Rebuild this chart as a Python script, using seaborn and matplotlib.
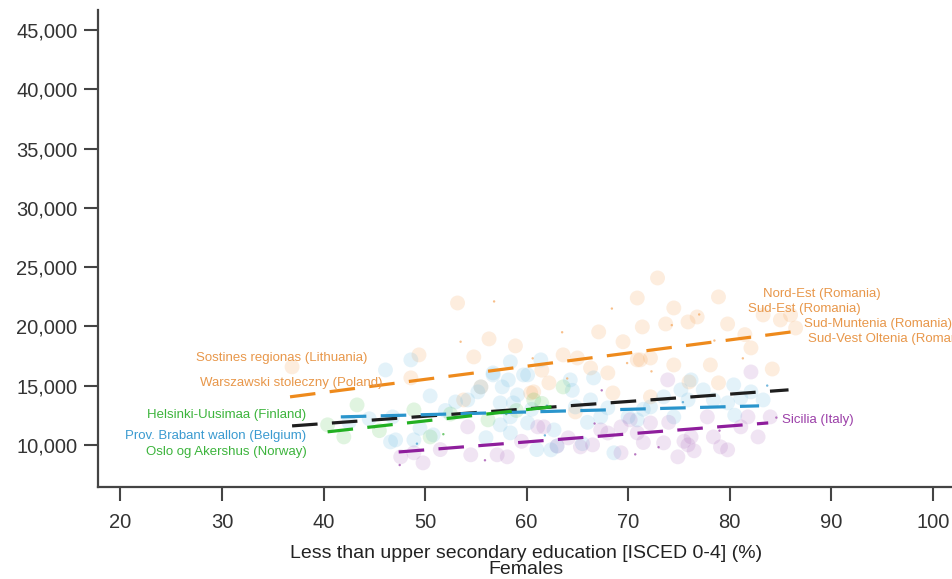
import matplotlib
matplotlib.use("Agg")
import matplotlib.pyplot as plt
import seaborn as sns
import pandas as pd

sns.set_style("white")
plt.rcParams['font.family'] = ['Liberation Sans', 'DejaVu Sans']

# regional points: share with less than upper secondary education (%) vs value
orange_x = [53.2, 70.9, 72.9, 78.9, 74.5, 71.4, 73.7, 75.9, 76.8, 79.8, 67.1, 56.3, 58.9,
            49.4, 54.8, 36.9, 83.3, 85.0, 86.0, 86.5, 63.6, 65.0, 66.3, 68.0, 70.9, 60.4,
            62.2, 68.5, 64.8, 55.5, 71.2, 72.2, 74.5, 78.1, 82.1, 76.0, 78.9, 72.2, 53.8,
            48.6, 60.7, 81.5, 84.2, 69.5, 61.5]
orange_y = [21970, 22390, 24080, 22480, 21550, 19950, 20200, 20370, 20790, 20200, 19530, 18940, 18350,
            17590, 17420, 16580, 20960, 20540, 20960, 19860, 17590, 17330, 16490, 16070, 17170, 14380,
            15230, 14380, 12780, 14890, 17170, 17330, 16740, 16740, 18180, 15310, 15230, 14050, 13790,
            15650, 14470, 19300, 16400, 18700, 16300]

blue_x = [48.6, 46.1, 50.5, 55.5, 56.7, 58.2, 59.7, 61.4, 46.6, 47.1, 48.9, 50.8, 54.2, 57.4,
          58.4, 60.1, 53.0, 46.8, 55.2, 58.4, 56.7, 60.1, 57.6, 59.1, 58.7, 64.3, 66.6, 66.3,
          68.0, 64.8, 67.3, 57.4, 58.4, 62.7, 62.4, 68.6, 70.0, 75.2, 77.4, 80.4, 82.1, 83.3,
          81.1, 78.4, 75.9, 73.5, 70.9, 72.2, 74.5, 79.8, 76.2, 63.0, 65.5, 61.0, 52.0, 44.5,
          42.5, 49.5, 66.0, 71.5, 80.5, 56.0, 60.5, 64.5]
blue_y = [17170, 16320, 14130, 14890, 15900, 15480, 15900, 17170, 10250, 10420, 10420, 10840, 13790, 13540,
          12360, 11850, 13620, 12360, 14470, 17000, 16070, 15900, 14890, 14220, 13540, 15480, 15650, 13790,
          13120, 13200, 12360, 11690, 11010, 11260, 9580, 9330, 12360, 14640, 14640, 15060, 14470, 13790,
          13960, 13790, 13790, 14050, 12110, 13200, 12360, 13540, 15480, 9900, 10100, 9600, 12900, 12200,
          11900, 11400, 11900, 13000, 12500, 10600, 13000, 14600]

green_x = [43.3, 42.0, 40.4, 48.9, 50.5, 63.6, 60.7, 56.2, 45.5, 52.5, 59.0, 61.5]
green_y = [13370, 10670, 11690, 12950, 10670, 14890, 13790, 12110, 11200, 12600, 12900, 13500]

purple_x = [47.6, 49.8, 48.9, 54.5, 58.1, 54.2, 61.1, 51.5, 61.7, 57.1, 64.1, 65.3, 67.3, 69.3,
            70.2, 69.3, 82.1, 73.9, 70.9, 72.2, 73.5, 74.9, 75.9, 76.2, 78.4, 79.1, 79.8, 81.1,
            82.8, 81.8, 84.0, 77.8, 76.5, 75.5, 66.5, 63.0, 59.5, 71.5, 74.0, 68.0]
purple_y = [8990, 8480, 9330, 9160, 8990, 11520, 11520, 9600, 11520, 9160, 10590, 9830, 11260, 11520,
            12110, 9330, 16150, 15480, 11010, 11850, 10170, 8990, 10000, 10670, 10670, 9830, 9580, 11520,
            10670, 12360, 12360, 12360, 9500, 10300, 10000, 9900, 10300, 10200, 11900, 11000]

# small dots of the remaining series
dot_x = [56.8, 53.5, 60.6, 68.4, 74.3, 77.0, 81.3, 84.6, 62.0, 66.7, 70.7, 47.5, 51.8, 58.0,
         64.0, 72.3, 78.5, 83.7, 45.0, 49.2, 55.9, 61.8, 67.4, 73.0, 79.0, 75.4, 69.9, 63.5]
dot_y = [22100, 18700, 17300, 21500, 20100, 21000, 17300, 12300, 13300, 11800, 9200, 8300, 10900, 12600,
         15600, 16200, 18800, 15000, 11500, 10100, 8700, 10800, 14600, 9800, 11200, 13600, 16900, 19500]
dot_color = ["#F5A55A", "#F5A55A", "#F5A55A", "#F5A55A", "#F5A55A", "#F5A55A", "#F5A55A", "#9B3FA8",
             "#3A9AD0", "#9B3FA8", "#9B3FA8", "#9B3FA8", "#3CB43C", "#3CB43C", "#F5A55A", "#F5A55A",
             "#F5A55A", "#3A9AD0", "#3CB43C", "#3A9AD0", "#9B3FA8", "#3A9AD0", "#9B3FA8", "#9B3FA8",
             "#9B3FA8", "#3A9AD0", "#F5A55A", "#F5A55A"]

# fitted trend lines (start, end)
fit_orange_x, fit_orange_y = [36.7, 86.0], [14050, 19520]
fit_black_x, fit_black_y = [36.9, 85.8], [11600, 14640]
fit_blue_x, fit_blue_y = [41.7, 82.9], [12360, 13290]
fit_green_x, fit_green_y = [40.4, 63.3], [11100, 13290]
fit_purple_x, fit_purple_y = [47.4, 83.8], [9400, 11850]

x_ticks = [20, 30, 40, 50, 60, 70, 80, 90, 100]
y_ticks = [10000, 15000, 20000, 25000, 30000, 35000, 40000, 45000]

fig = plt.figure(figsize=(9.53, 5.79), dpi=100)
ax = fig.add_axes([0.103, 0.159, 0.897, 0.824])

groups = [(orange_x, orange_y, "#F5A55A", 0.2), (blue_x, blue_y, "#5DB5E0", 0.17),
          (green_x, green_y, "#4CC04C", 0.17), (purple_x, purple_y, "#A862B8", 0.17)]
for gx, gy, c, a in groups:
    df = pd.DataFrame({"x": gx, "y": gy})
    sns.scatterplot(data=df, x="x", y="y", color=c, alpha=a, s=115, edgecolor="none", ax=ax)

dots = pd.DataFrame({"x": dot_x, "y": dot_y, "c": dot_color})
ax.scatter(dots["x"], dots["y"], c=dots["c"], s=3, alpha=0.7, edgecolors="none")

fits = [(fit_orange_x, fit_orange_y, "#EE8A1C"), (fit_black_x, fit_black_y, "#1E1E1E"),
        (fit_blue_x, fit_blue_y, "#2A95CC"), (fit_green_x, fit_green_y, "#22B022"),
        (fit_purple_x, fit_purple_y, "#8E1E9C")]
for fx, fy, c in fits:
    sns.lineplot(x=fx, y=fy, color=c, lw=2.3, dashes=False, ax=ax)
    ax.lines[-1].set_dashes((8, 4.5))

labels = [("Sostines regionas (Lithuania)", 44.3, 17330, "right", "#E8974A"),
          ("Warszawski stoleczny (Poland)", 45.8, 15230, "right", "#E8974A"),
          ("Helsinki-Uusimaa (Finland)", 38.3, 12530, "right", "#3CB43C"),
          ("Prov. Brabant wallon (Belgium)", 38.3, 10760, "right", "#3A9AD0"),
          ("Oslo og Akershus (Norway)", 38.3, 9410, "right", "#3CB43C"),
          ("Nord-Est (Romania)", 83.3, 22730, "left", "#E8974A"),
          ("Sud-Est (Romania)", 81.8, 21460, "left", "#E8974A"),
          ("Sud-Muntenia (Romania)", 87.3, 20200, "left", "#E8974A"),
          ("Sud-Vest Oltenia (Romania)", 87.7, 18940, "left", "#E8974A"),
          ("Sicilia (Italy)", 85.2, 12110, "left", "#9B3FA8")]
for t, tx, ty, ha, c in labels:
    ax.text(tx, ty, t, ha=ha, va="center", color=c, fontsize=9.5, clip_on=False)

ax.set_xlim(17.8, 102)
ax.set_ylim(6450, 46700)
ax.set_xticks(x_ticks)
ax.set_yticks(y_ticks)
ax.set_yticklabels([f"{v:,}" for v in y_ticks])
ax.tick_params(axis="both", direction="out", length=10, width=1.5, color="#444444",
               labelsize=14.5, labelcolor="#333333", left=True, bottom=True)
ax.tick_params(axis="x", pad=9)
ax.tick_params(axis="y", pad=5)
ax.set_xlabel("Less than upper secondary education [ISCED 0-4] (%)\nFemales",
              fontsize=14, color="#222222", labelpad=9, linespacing=0.95)
ax.set_ylabel("")
for s in ["top", "right"]:
    ax.spines[s].set_visible(False)
for s in ["left", "bottom"]:
    ax.spines[s].set_color("#444444")
    ax.spines[s].set_linewidth(1.6)

fig.savefig("out.png", dpi=100)
